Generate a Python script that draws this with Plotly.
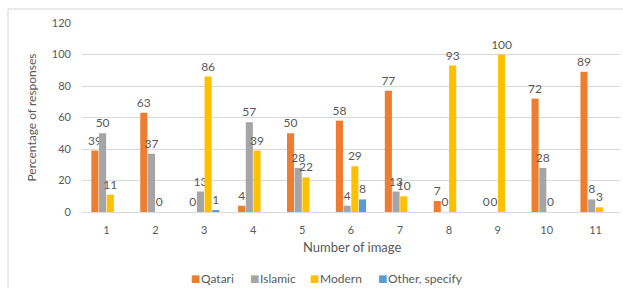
import plotly.graph_objects as go

categories = ["1", "2", "3", "4", "5", "6", "7", "8", "9", "10", "11"]
qatari = [39, 63, 0, 4, 50, 58, 77, 7, 0, 72, 89]
islamic = [50, 37, 13, 57, 28, 4, 13, 0, 0, 28, 8]
modern = [11, 0, 86, 39, 22, 29, 10, 93, 100, 0, 3]
other = [None, None, 1, None, None, 8, None, None, None, None, None]

series = [
    ("Qatari", qatari, "#ED7D31"),
    ("Islamic", islamic, "#A5A5A5"),
    ("Modern", modern, "#FFC000"),
    ("Other, specify", other, "#5B9BD5"),
]

FONT = "Lato, 'Open Sans', sans-serif"
TXT = "#595959"

L, R, T, B = 82, 3, 23, 76
W, H = 623, 288
PW, PH = W - L - R, H - T - B


def px(x):
    return (x - L) / PW


def py(y):
    return (H - B - y) / PH


fig = go.Figure()
for name, vals, color in series:
    fig.add_trace(go.Bar(
        x=categories, y=vals, name=name,
        marker=dict(color=color, line=dict(width=0)),
        text=["" if v is None else str(v) for v in vals],
        textposition="outside",
        constraintext="none",
        cliponaxis=False,
        textfont=dict(family=FONT, size=12, color=TXT),
        showlegend=False,
    ))

# legend built as annotations (square marker + label)
legend_x = [190, 249, 309, 377]
annotations = []
for (name, vals, color), lx in zip(series, legend_x):
    annotations.append(dict(x=px(lx - 1), y=py(278), xref="paper", yref="paper",
                            text="■", showarrow=False, xanchor="left", yanchor="middle",
                            font=dict(family="DejaVu Sans", size=10, color=color)))
    annotations.append(dict(x=px(lx + 9), y=py(278), xref="paper", yref="paper",
                            text=name, showarrow=False, xanchor="left", yanchor="middle",
                            font=dict(family=FONT, size=12, color=TXT)))

annotations.append(dict(x=px(352), y=py(247), xref="paper", yref="paper",
                        text="Number of image", showarrow=False,
                        xanchor="center", yanchor="middle",
                        font=dict(family=FONT, size=13, color=TXT)))

fig.update_layout(
    width=W, height=H,
    margin=dict(l=L, r=R, t=T, b=B, autoexpand=False),
    paper_bgcolor="white", plot_bgcolor="white",
    barmode="group", bargap=0.37, bargroupgap=0.08,
    font=dict(family=FONT, size=11, color=TXT),
    showlegend=False,
    xaxis=dict(
        showgrid=False, showline=True, linecolor="#D9D9D9", linewidth=1,
        ticks="", ticklabelstandoff=8, automargin=False,
        tickfont=dict(size=11, color=TXT),
    ),
    yaxis=dict(
        range=[0, 120], dtick=20, showgrid=True, gridcolor="#D9D9D9", gridwidth=1,
        zeroline=False, showline=False, ticks="", ticklabelstandoff=10, automargin=False,
        tickfont=dict(size=11, color=TXT),
        title=dict(text="Percentage of responses", font=dict(size=12, color=TXT), standoff=12),
    ),
    annotations=annotations,
    shapes=[dict(type="rect", xref="paper", yref="paper",
                 x0=px(8), x1=px(640), y0=py(320), y1=py(9),
                 line=dict(color="#D4D4D4", width=1), layer="below")],
)

fig.write_html("out.html", config={"displayModeBar": False},
               post_script="document.body.style.margin='0';document.body.style.overflow='hidden';")
